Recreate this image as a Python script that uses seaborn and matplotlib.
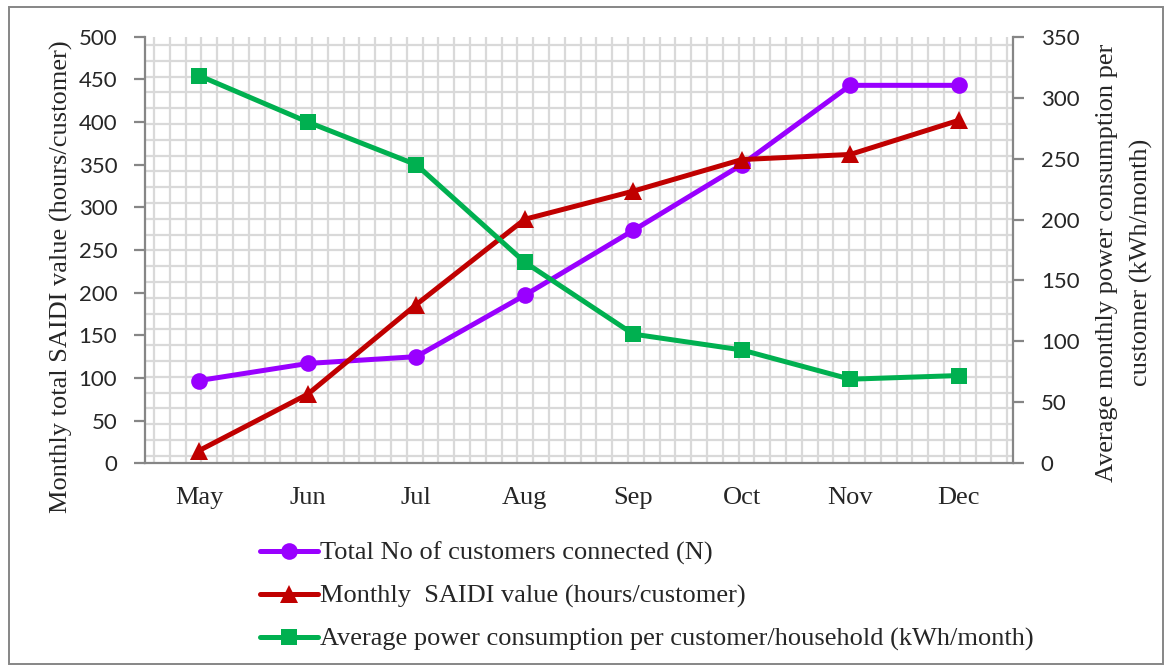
import numpy as np
import pandas as pd
import matplotlib
matplotlib.use("Agg")
import matplotlib.pyplot as plt
import seaborn as sns
from matplotlib.patches import Rectangle
from matplotlib.lines import Line2D

months = ["May", "Jun", "Jul", "Aug", "Sep", "Oct", "Nov", "Dec"]
customers = [97, 117, 125, 197, 273, 350, 443, 443]
saidi = [15, 81, 186, 286, 319, 356, 362, 402]
consumption = [318, 280, 245, 165, 106, 93, 69, 72]

lab_cust = "Total No of customers connected (N)"
lab_saidi = "Monthly  SAIDI value (hours/customer)"
lab_cons = "Average power consumption per customer/household (kWh/month)"

sns.set_theme(style="white")
serif = ["Liberation Serif", "DejaVu Serif"]
sans = ["Lato", "DejaVu Sans"]
plt.rcParams["font.family"] = serif

c_purple = "#9900ff"
c_red = "#c00000"
c_green = "#00b050"
c_axis = "#868686"
c_grid = "#d9d9d9"

fig = plt.figure(figsize=(11.69, 6.70), dpi=100)
W, H = 1169, 670
L, R, T, B = 145, 1013, 36.7, 463.3
ax = fig.add_axes([L / W, 1 - B / H, (R - L) / W, (B - T) / H])
ax2 = ax.twinx()

df = pd.DataFrame({"month": months, "customers": customers,
                   "saidi": saidi, "consumption": consumption})

# background grid (graph paper)
pw, ph = R - L, B - T
step = 15.8
xs = np.arange(9, pw, step) / pw
ys = 1 - np.arange(8.3, ph, step) / ph
ax.vlines(xs, 0, 1, transform=ax.transAxes, colors=c_grid, lw=1.6, zorder=0)
ax.hlines(ys, 0, 1, transform=ax.transAxes, colors=c_grid, lw=1.6, zorder=0)

lw = 3.6
ms = 12
sns.lineplot(data=df, x="month", y="customers", ax=ax, color=c_purple, lw=lw,
             marker="o", markersize=ms, markeredgewidth=0, sort=False, zorder=3)
sns.lineplot(data=df, x="month", y="saidi", ax=ax, color=c_red, lw=lw,
             marker="^", markersize=ms + 1, markeredgewidth=0, sort=False, zorder=3)
sns.lineplot(data=df, x="month", y="consumption", ax=ax2, color=c_green, lw=lw,
             marker="s", markersize=ms - 1, markeredgewidth=0, sort=False, zorder=3)

ax.set_xlim(-0.5, 7.5)
ax.set_ylim(0, 500)
ax2.set_ylim(0, 350)
ax.set_yticks(np.arange(0, 501, 50))
ax2.set_yticks(np.arange(0, 351, 50))

for a in (ax, ax2):
    a.spines["top"].set_visible(False)
    for s in ("left", "right", "bottom"):
        a.spines[s].set_color(c_axis)
        a.spines[s].set_linewidth(1.6)
ax2.spines["left"].set_visible(False)
ax2.spines["bottom"].set_visible(False)
ax.spines["right"].set_visible(False)

ax.set_xticks(range(len(months)))
ax.set_xticklabels(months, fontsize=19, family=serif)
ax.set_xticks(np.arange(-0.5, 8, 1), minor=True)
ax.tick_params(axis="x", which="major", length=0, pad=17)
ax.tick_params(axis="x", which="minor", length=7, width=1.6, color=c_axis, direction="out")
ax.tick_params(axis="y", which="major", length=8, width=1.6, color=c_axis, pad=12,
               labelsize=16, left=True)
ax2.tick_params(axis="y", which="major", length=8, width=1.6, color=c_axis, pad=12,
                labelsize=16, right=True)
for t in ax.get_yticklabels() + ax2.get_yticklabels():
    t.set_family(sans)

ax.set_xlabel("")
ax.set_ylabel("Monthly total SAIDI value (hours/customer)", fontsize=19)
ax.yaxis.set_label_coords(-0.083, 0.437)
ax2.set_ylabel("Average monthly power consumption per\ncustomer (kWh/month)",
               fontsize=19, linespacing=1.65)
ax2.yaxis.set_label_coords(1.096, 0.47)

handles = [
    Line2D([], [], color=c_purple, lw=lw, marker="o", markersize=ms, markeredgewidth=0),
    Line2D([], [], color=c_red, lw=lw, marker="^", markersize=ms + 1, markeredgewidth=0),
    Line2D([], [], color=c_green, lw=lw, marker="s", markersize=ms - 1, markeredgewidth=0),
]
fig.legend(handles, [lab_cust, lab_saidi, lab_cons], loc="upper left",
           bbox_to_anchor=(249 / W, 1 - 531 / H), frameon=False, fontsize=19,
           handlelength=2.2, handletextpad=0.08, labelspacing=0.72, borderaxespad=0)

fig.patches.append(Rectangle((9 / W, 1 - 664 / H), 1154 / W, 657 / H,
                             transform=fig.transFigure, fill=False,
                             edgecolor=c_axis, lw=1.4, zorder=0))

fig.savefig("out.png", dpi=100)
